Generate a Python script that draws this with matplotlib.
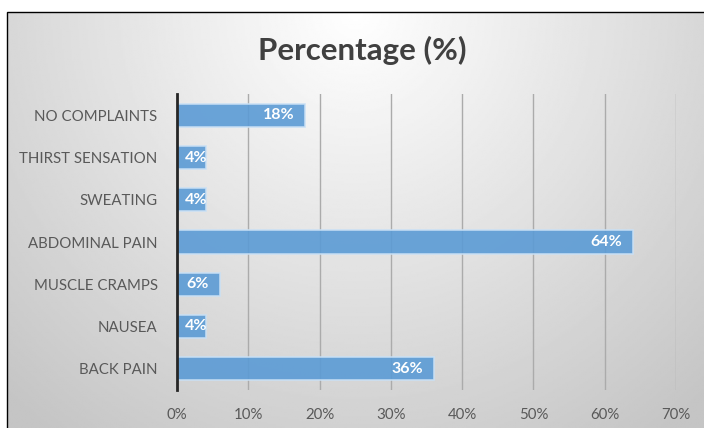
import matplotlib.pyplot as plt
import numpy as np
from matplotlib.patches import Rectangle

# data (top to bottom in the picture)
categories = ['NO COMPLAINTS', 'THIRST SENSATION', 'SWEATING', 'ABDOMINAL PAIN',
              'MUSCLE CRAMPS', 'NAUSEA', 'BACK PAIN']
values = [18, 4, 4, 64, 6, 4, 36]
xticks = [0, 10, 20, 30, 40, 50, 60, 70]

plt.rcParams['font.family'] = ['Lato', 'DejaVu Sans']

W, H = 704, 428
fig = plt.figure(figsize=(W / 100, H / 100), dpi=100)

# chart area box with a radial grey gradient
x0, y0 = 7 / W, 1 - 12 / H
bg = fig.add_axes([x0, 0, 1 - x0, y0], zorder=0)
gx, gy = np.meshgrid(np.linspace(-1, 1, 400), np.linspace(0, 1, 250))
r = np.sqrt((gx * 0.95) ** 2 + (gy * 1.1) ** 2)
shade = 1.0 - 0.23 * np.clip(r, 0, 1.4) / 1.4
bg.imshow(shade, cmap='gray', vmin=0, vmax=1, aspect='auto', origin='upper',
          extent=[0, 1, 0, 1])
bg.set_xlim(0, 1)
bg.set_ylim(0, 1)
bg.axis('off')
fig.patches.append(Rectangle((x0, -0.01), 1.1, y0 + 0.01, transform=fig.transFigure,
                             fill=False, edgecolor='black', linewidth=1, zorder=5))

ax = fig.add_axes([177 / W, 1 - 389.6 / H, 499 / W, (389.6 - 94.4) / H], zorder=2)
ax.patch.set_alpha(0)

ypos = np.arange(len(categories))[::-1]
ax.barh(ypos, values, height=0.55, color='#5b9bd5', alpha=0.9,
        edgecolor='#c9e0f5', linewidth=1.2, zorder=3)

for y, v in zip(ypos, values):
    if v < 5:
        ax.text(1.1, y, f'{v}%', ha='left', va='center', color='white',
                fontsize=11.5, fontweight='bold', zorder=4)
    else:
        ax.text(v - 1.5, y, f'{v}%', ha='right', va='center', color='white',
                fontsize=11.5, fontweight='bold', zorder=4)

ax.set_xlim(0, 70)
ax.set_ylim(-0.5, len(categories) - 0.5)
ax.set_xticks(xticks)
ax.set_xticklabels([f'{t}%' for t in xticks])
ax.set_yticks(ypos)
ax.set_yticklabels(categories)
ax.grid(axis='x', color='#ababab', linewidth=1, zorder=1)
ax.tick_params(length=0, labelsize=10.8, labelcolor='#595959')
ax.tick_params(axis='x', pad=13)
ax.tick_params(axis='y', pad=14)
for s in ['top', 'right', 'bottom']:
    ax.spines[s].set_visible(False)
ax.spines['left'].set_color('#262626')
ax.spines['left'].set_linewidth(2)
ax.spines['left'].set_zorder(5)

fig.text(362 / W, 1 - 50 / H, 'Percentage (%)', ha='center', va='center',
         fontsize=22.5, fontweight='bold', color='#404040')

fig.savefig('out.png', dpi=100)
